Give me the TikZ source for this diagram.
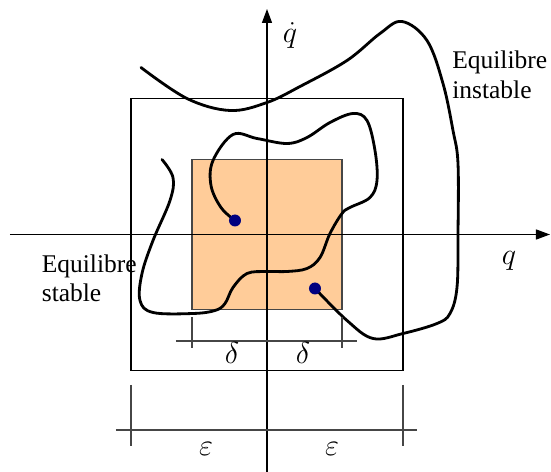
\documentclass[tikz,border=0pt]{standalone}
\usepackage{fontspec}
\setmainfont{Liberation Serif}
\usepackage{tikz}
\usetikzlibrary{arrows.meta,positioning}
\definecolor{PeachFill}{RGB}{255,204,153}
\definecolor{DotBlue}{RGB}{0,0,128}
\definecolor{DimGray}{RGB}{70,70,70}

\begin{document}
\begin{tikzpicture}[
    axis/.style={-{Triangle[length=2.8mm,width=2mm]}, line width=0.75pt},
    traj/.style={line width=1.6pt, line cap=round},
    dimline/.style={DimGray, line width=0.6pt},
    lbl/.style={inner sep=0pt, font=\fontsize{14.5}{17}\selectfont, align=left},
    mlbl/.style={inner sep=0pt, font=\fontsize{19}{22}\selectfont}
  ]
      \useasboundingbox (-5.34,-4.75) rectangle (5.68,4.69);
      \fill[PeachFill] (-1.5,-1.5) rectangle (1.5,1.5);
      \draw[DimGray, line width=0.7pt] (-1.5,-1.5) rectangle (1.5,1.5);
      \draw[line width=0.6pt] (-2.72,-2.72) rectangle (2.72,2.72);
      \draw[axis] (-5.14,0)--(5.66,0);
      \draw[axis] (0,-4.75)--(0,4.51);
      \coordinate (pstable) at (-0.64,0.28);
      \coordinate (punstable) at (0.96,-1.08);
      \draw[traj] plot[smooth, tension=0.6] coordinates {(pstable) (-0.92,0.54) (-1.12,0.98) (-1.08,1.48) (-0.68,2.00) (-0.20,1.92) (0.40,1.82) (0.80,1.94) (1.26,2.24) (1.72,2.42) (2.00,2.28) (2.16,1.68) (2.20,1.08) (2.06,0.74) (1.66,0.54) (1.50,0.42) (1.26,0.02) (1.06,-0.46) (0.80,-0.68) (0.40,-0.74) (0.00,-0.74) (-0.40,-0.78) (-0.68,-1.06) (-0.84,-1.38) (-1.04,-1.52) (-1.48,-1.58) (-2.28,-1.56) (-2.54,-1.32) (-2.50,-0.78) (-2.28,-0.12) (-1.94,0.68) (-1.88,1.14) (-2.10,1.50)};
      \draw[traj] plot[smooth, tension=0.6] coordinates {(punstable) (1.60,-1.72) (2.12,-2.08) (2.72,-1.98) (3.40,-1.78) (3.66,-1.58) (3.80,-1.06) (3.82,0.00) (3.82,1.42) (3.72,2.08) (3.52,3.02) (3.20,3.88) (2.70,4.26) (2.26,4.02) (1.60,3.48) (0.66,2.96) (0.00,2.64) (-0.74,2.48) (-1.60,2.72) (-2.52,3.34)};
      \fill[DotBlue] (pstable) circle (0.12);
      \fill[DotBlue] (punstable) circle (0.12);
      \draw[dimline] (-1.82,-2.13)--(1.81,-2.13);
      \draw[dimline] (-1.5,-1.66)--(-1.5,-2.27);
      \draw[dimline] (1.5,-1.66)--(1.5,-2.27);
      \draw[dimline] (-3.02,-3.91)--(3.01,-3.91);
      \draw[dimline] (-2.72,-3.01)--(-2.72,-4.23);
      \draw[dimline] (2.72,-3.01)--(2.72,-4.23);
      \node[mlbl, anchor=base] (deltaL) at (-0.70,-2.58) {$\delta$};
      \node[mlbl, anchor=base] (deltaR) at (0.72,-2.58) {$\delta$};
      \node[mlbl, anchor=base] (epsL) at (-1.22,-4.41) {$\varepsilon$};
      \node[mlbl, anchor=base] (epsR) at (1.30,-4.41) {$\varepsilon$};
      \node[mlbl, anchor=base] (qlab) at (4.84,-0.61) {$q$};
      \node[mlbl, anchor=base] (qdotlab) at (0.46,3.83) {$\dot{q}$};
      \node[lbl, anchor=base west] (unstable) at (3.70,2.72) {Equilibre\\instable};
      \node[lbl, anchor=base west] (stable) at (-4.51,-1.35) {Equilibre\\stable};
    \end{tikzpicture}
\end{document}
